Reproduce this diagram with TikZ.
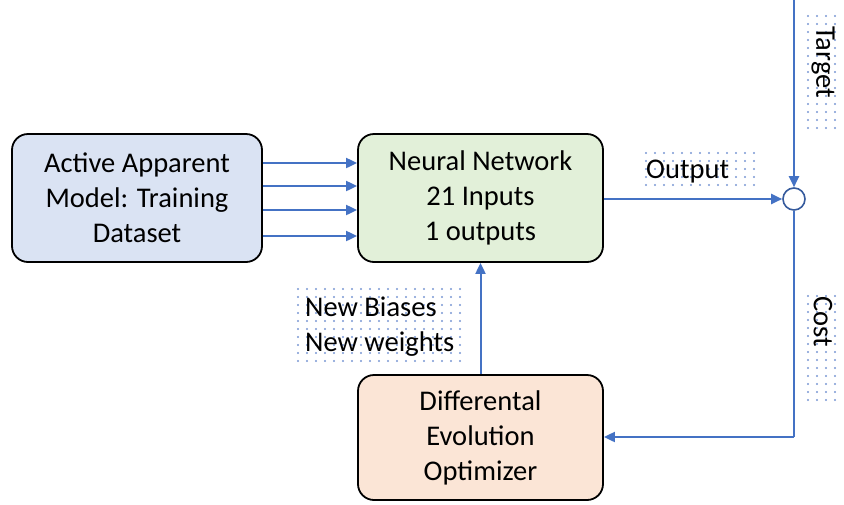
\documentclass[tikz,border=0pt]{standalone}
\usepackage{fontspec}
\setmainfont{Carlito}
\usetikzlibrary{arrows.meta}

\definecolor{linkblue}{HTML}{4472C4}
\definecolor{dsblue}{HTML}{DAE3F3}
\definecolor{nngreen}{HTML}{E2F0D9}
\definecolor{optorange}{HTML}{FBE5D6}
\definecolor{dotblue}{HTML}{7A98D4}

% grid of small blue dots: corner (#1,#2), #3 columns and #4 rows, 9 by 8 apart
\newcommand{\dotfield}[4]{%
  \foreach \ci in {0,...,#3}
    \foreach \ri in {0,...,#4}
      \fill[dotblue] ({#1+9*\ci},{#2+8*\ri}) circle (1.1pt);}

\tikzset{
  txt/.style={font=\fontsize{28.5}{35}\selectfont},
  block/.style={txt, draw=black, line width=1.8pt, rounded corners=16pt, align=center, inner sep=0pt},
  link/.style={draw=linkblue, line width=2pt, -{Triangle[length=11pt,width=10pt]}},
  plain/.style={draw=linkblue, line width=2pt},
  junction/.style={circle, draw=linkblue!80!black, line width=1.6pt, fill=white, minimum size=22pt, inner sep=0pt}
}

\begin{document}
\begin{tikzpicture}[x=1pt,y=-1pt]
\useasboundingbox (0,0) rectangle (844,504);

% dotted backgrounds of the free labels
\dotfield{646}{153}{12}{4}
\dotfield{808}{16}{3}{14}
\dotfield{808}{296}{3}{13}
\dotfield{298}{289}{18}{9}

% blocks
\node[block, fill=dsblue, minimum width=250pt, minimum height=128pt] (data) at (137,198)
  {Active Apparent\\Model: Training\\Dataset};
\node[block, fill=nngreen, minimum width=245pt, minimum height=128pt] (nn) at (480.5,198)
  {Neural Network\\21 Inputs\\1 outputs};
\node[block, fill=optorange, minimum width=245pt, minimum height=125pt] (opt) at (480.5,437.5)
  {Differental\\Evolution\\Optimizer};
\node[junction] (sum) at (794,199) {};

% free labels
\node[txt, anchor=west, inner sep=0pt] (outtxt) at (646,172) {Output};
\node[txt, rotate=-90, inner sep=0pt] (tgttxt) at (823,62) {Target};
\node[txt, rotate=-90, inner sep=0pt] (costtxt) at (823,322) {Cost};
\node[txt, align=left, anchor=west, inner sep=0pt] (wtxt) at (305,327)
  {New Biases\\New weights};

% dataset to network
\foreach \yy in {163,186,210,236}
  \draw[link] (data.east |- 0,\yy) -- (nn.west |- 0,\yy);

% network output to junction
\draw[link] (nn.east |- sum) -- (sum.west);

% target feeding the junction
\coordinate (tgttop) at (794,0);
\draw[link] (tgttop) -- (sum.north);

% cost back to the optimizer
\coordinate (costcorner) at (794,437);
\draw[plain] (sum.south) -- (costcorner);
\draw[link] (costcorner) -- (opt.east |- costcorner);

% updated weights to the network
\draw[link] (opt.north) -- (nn.south);
\end{tikzpicture}
\end{document}
